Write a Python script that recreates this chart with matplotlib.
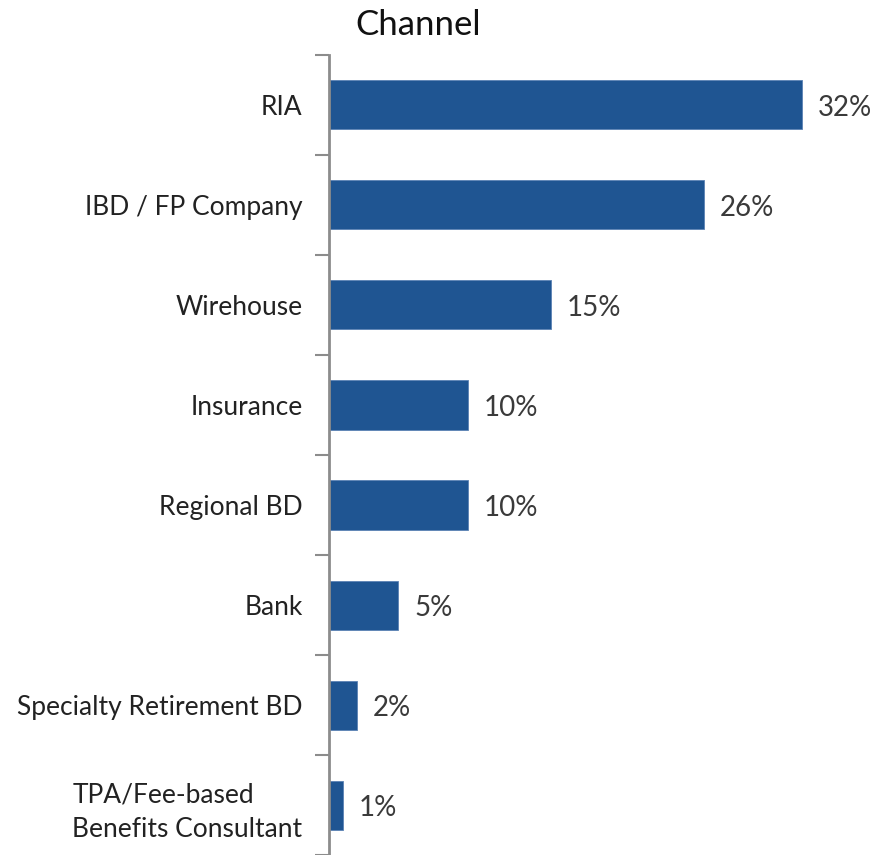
import matplotlib
matplotlib.use("Agg")
import matplotlib.pyplot as plt
import numpy as np

categories = ["RIA", "IBD / FP Company", "Wirehouse", "Insurance", "Regional BD",
              "Bank", "Specialty Retirement BD", "TPA/Fee-based\nBenefits Consultant"]
values = [32.0, 25.4, 15.0, 9.4, 9.4, 4.7, 1.9, 0.95]
value_labels = ["32%", "26%", "15%", "10%", "10%", "5%", "2%", "1%"]
title = "Channel"

plt.rcParams['font.family'] = ['Lato', 'DejaVu Sans']

W, H = 877, 855
fig = plt.figure(figsize=(W / 100, H / 100), dpi=100)
ax_left, ax_right = 329, 877
ax_top, ax_bot = 55, 855
ax = fig.add_axes([ax_left / W, 1 - ax_bot / H, (ax_right - ax_left) / W, (ax_bot - ax_top) / H])

y = np.arange(len(categories))
ax.barh(y, values, height=0.49, color="#1F5592", edgecolor="#5B82B4", linewidth=0.6)
for yi, v, lab in zip(y, values, value_labels):
    ax.text(v + 1.05, yi + 0.03, lab, va="center", ha="left", fontsize=20,
            color="#3A3A3A")

ax.set_xlim(0, 548 / 14.78)
ax.set_ylim(7.45, -0.5)
ax.set_yticks(y)
ax.set_yticklabels(categories, fontsize=19, color="#222222", multialignment="left",
                   linespacing=1.45)
ax.tick_params(axis="y", which="major", length=0, pad=19)
ax.set_yticks(np.arange(-0.5, 8, 1), minor=True)
ax.tick_params(axis="y", which="minor", length=10, width=1.5, color="#8C8C8C")
ax.set_xticks([])
for s in ["top", "right", "bottom"]:
    ax.spines[s].set_visible(False)
ax.spines["left"].set_color("#8C8C8C")
ax.spines["left"].set_linewidth(2)

fig.text(418 / W, 1 - 25 / H, title, ha="center", va="center", fontsize=25, color="#111111")

fig.savefig("out.png", dpi=100)
